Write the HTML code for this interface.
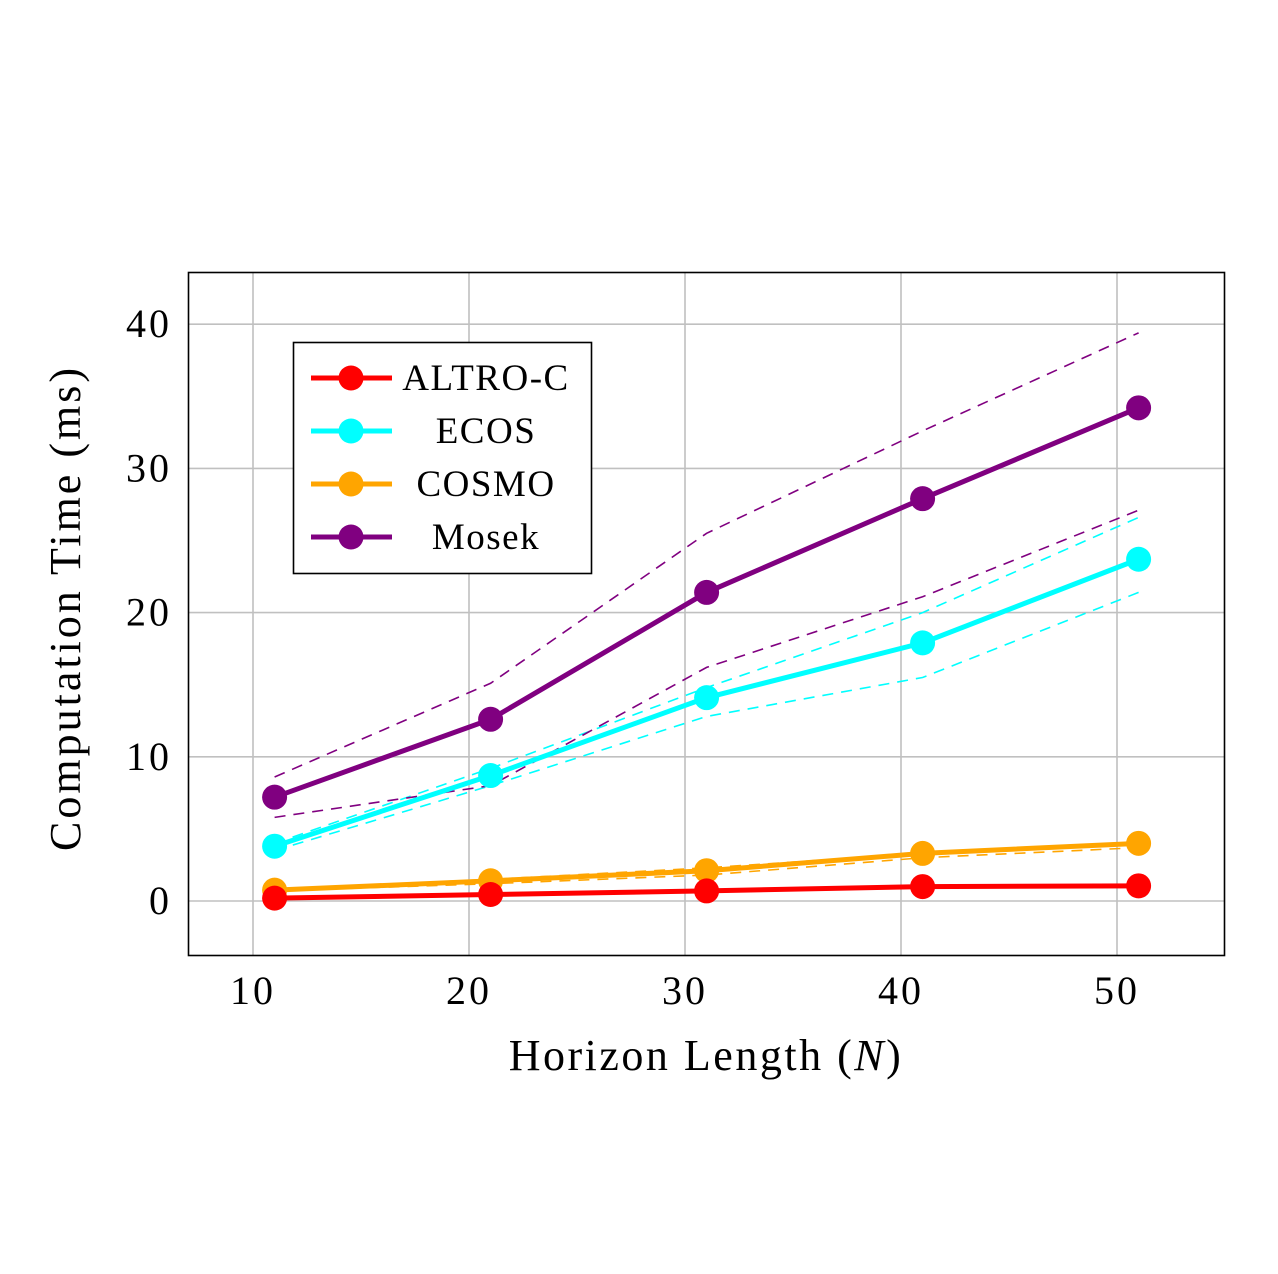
<!DOCTYPE html>
<html><head><meta charset="utf-8"><style>
body{margin:0;background:#fff;}
svg{display:block;font-family:"Liberation Serif",serif;}
</style></head><body>
<svg id="chart" width="1278" height="1274" viewBox="0 0 1278 1274">
<g id="grid"></g>
<g id="series"></g>
<rect x="188.5" y="272.5" width="1036" height="683" fill="none" stroke="#000" stroke-width="1.6"/>
<g id="ticks"></g>
<text x="706" y="1070" font-size="44" letter-spacing="2.5" text-anchor="middle">Horizon Length (<tspan font-style="italic">N</tspan>)</text>
<text transform="translate(80,608) rotate(-90)" font-size="44" letter-spacing="3" text-anchor="middle">Computation Time (ms)</text>
<g id="legend">
<rect x="293.5" y="342.5" width="298" height="231" fill="#fff" stroke="#000" stroke-width="1.6"/>
</g>
</svg>
<script>
const categories=[11,21,31,41,51];
const seriesNames=["ALTRO-C","ECOS","COSMO","Mosek"];
const colors=["#ff0000","#00ffff","#ffa500","#800080"];
const altro=[0.2,0.45,0.7,1.0,1.05];
const altroUp=[0.25,0.5,0.75,1.05,1.1];
const altroLo=[0.15,0.4,0.65,0.95,1.0];
const ecos=[3.8,8.7,14.1,17.9,23.7];
const ecosUp=[4.0,9.2,14.8,20.0,26.6];
const ecosLo=[3.5,8.0,12.8,15.5,21.4];
const cosmo=[0.75,1.4,2.1,3.3,4.0];
const cosmoUp=[0.8,1.5,2.3,3.3,3.9];
const cosmoLo=[0.7,1.2,1.8,3.0,3.7];
const mosek=[7.2,12.6,21.4,27.9,34.2];
const mosekUp=[8.6,15.1,25.5,32.6,39.4];
const mosekLo=[5.8,8.0,16.2,21.1,27.1];
const xTicks=[10,20,30,40,50];
const yTicks=[0,10,20,30,40];
const X=v=>253+(v-10)*21.6;
const Y=v=>901-v*14.42;
const NS="http://www.w3.org/2000/svg";
function mk(tag,attrs,parent){const e=document.createElementNS(NS,tag);for(const k in attrs)e.setAttribute(k,attrs[k]);parent.appendChild(e);return e;}
const grid=document.getElementById('grid'),ticks=document.getElementById('ticks'),ser=document.getElementById('series'),leg=document.getElementById('legend');
xTicks.forEach(t=>{
 const l=mk('line',{x1:X(t),x2:X(t),y1:272,y2:955,stroke:'#c0c0c0','stroke-width':1.6},grid);
 
 
 const tx=mk('text',{x:X(t),y:1004,'font-size':40,'letter-spacing':3,'text-anchor':'middle'},ticks);tx.textContent=t;
 
 
});
yTicks.forEach(t=>{
 const l=mk('line',{x1:188,x2:1224,y1:Y(t),y2:Y(t),stroke:'#c0c0c0','stroke-width':1.6},grid);
 
 
 const tx=mk('text',{x:172,y:Y(t)+13,'font-size':40,'letter-spacing':3,'text-anchor':'end'},ticks);tx.textContent=t;
 
 
});
const all=[[altro,altroUp,altroLo],[ecos,ecosUp,ecosLo],[cosmo,cosmoUp,cosmoLo],[mosek,mosekUp,mosekLo]];
const pts=a=>a.map((v,i)=>X(categories[i])+','+Y(v)).join(' ');
all.forEach((s,k)=>{
 [s[1],s[2]].forEach(b=>{
  const p=mk('polyline',{points:pts(b),fill:'none',stroke:colors[k],'stroke-width':1.6,'stroke-dasharray':'11,8'},ser);
  
  
 });
});
[2,0,1,3].forEach(k=>{
 const s=all[k];
 const p=mk('polyline',{points:pts(s[0]),fill:'none',stroke:colors[k],'stroke-width':5},ser);
 
 
 s[0].forEach((v,i)=>{
  const c=mk('circle',{cx:X(categories[i]),cy:Y(v),r:12.5,fill:colors[k]},ser);
  
  
 });
});
seriesNames.forEach((n,k)=>{
 const y=378+k*53;
 const l=mk('line',{x1:311,x2:392,y1:y,y2:y,stroke:colors[k],'stroke-width':5},leg);
 
 
 const c=mk('circle',{cx:351,cy:y,r:12.5,fill:colors[k]},leg);
 
 
 const t=mk('text',{x:486,y:y+12,'font-size':37,'letter-spacing':1.5,'text-anchor':'middle'},leg);t.textContent=n;
 
 
});
</script>
</body></html>
